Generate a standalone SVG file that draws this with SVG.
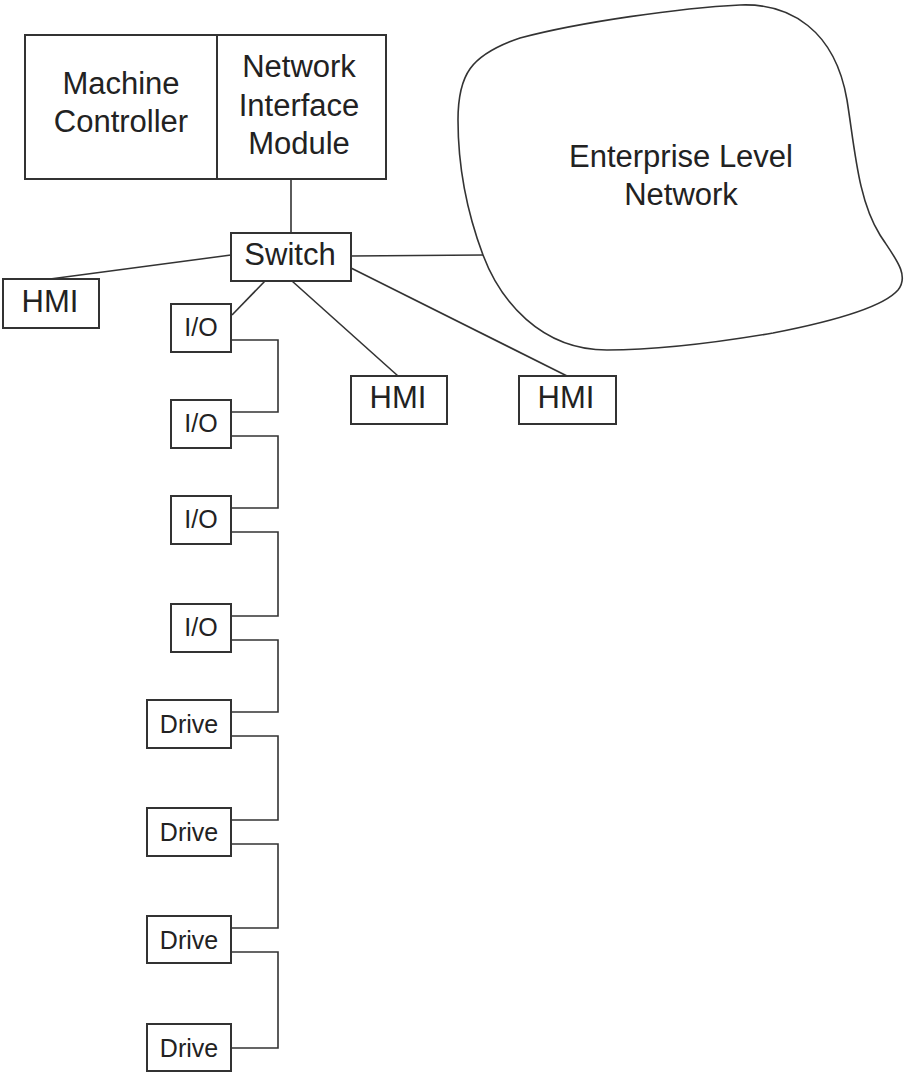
<svg xmlns="http://www.w3.org/2000/svg" width="907" height="1073" viewBox="0 0 907 1073">
<style>
.box{fill:#fff;stroke:#333;stroke-width:2}
.ln{fill:none;stroke:#333;stroke-width:1.6}
.t{font-family:"Liberation Sans",Arial,sans-serif;font-size:31px;fill:#222;text-anchor:middle}
.s{font-family:"Liberation Sans",Arial,sans-serif;font-size:25px;fill:#222;text-anchor:middle}
</style>
<rect width="907" height="1073" fill="#fff"/>
<g id="connectors">
<line class="ln" x1="291" y1="179" x2="291" y2="233"/>
<line class="ln" x1="231" y1="255" x2="50" y2="279"/>
<line class="ln" x1="351" y1="256" x2="483" y2="255"/>
<line class="ln" x1="265" y1="281" x2="232" y2="315"/>
<line class="ln" x1="292" y1="281" x2="398" y2="376"/>
<line class="ln" x1="351" y1="268" x2="567" y2="376"/>
<polyline class="ln" points="231,340 278,340 278,412 231,412"/>
<polyline class="ln" points="231,436 278,436 278,508 231,508"/>
<polyline class="ln" points="231,532 278,532 278,616 231,616"/>
<polyline class="ln" points="231,640 278,640 278,712 231,712"/>
<polyline class="ln" points="231,736 278,736 278,820 231,820"/>
<polyline class="ln" points="231,844 278,844 278,928 231,928"/>
<polyline class="ln" points="231,952 278,952 278,1048 231,1048"/>
</g>
<g id="machine-controller">
<rect class="box" x="25" y="35" width="192" height="144"/>
<text class="t" x="121" y="94">Machine</text>
<text class="t" x="121" y="132">Controller</text>
</g>
<g id="network-interface-module">
<rect class="box" x="217" y="35" width="169" height="144"/>
<text class="t" x="299" y="77">Network</text>
<text class="t" x="299" y="116">Interface</text>
<text class="t" x="299" y="154">Module</text>
</g>
<g id="enterprise-network">
<path class="box" style="stroke-width:1.6" d="M 607,350 C 540,350 500,300 483,255 C 468,215 458,170 458,120 C 458,75 470,55 520,38 C 580,22 680,8 740,5 C 790,3 835,30 847,100 C 855,150 858,200 880,235 C 895,258 910,275 898,290 C 885,305 840,320 773,333 C 720,342 660,350 607,350 Z"/>
<text class="t" x="681" y="167">Enterprise Level</text>
<text class="t" x="681" y="205">Network</text>
</g>
<g id="switch">
<rect class="box" x="231" y="233" width="120" height="48"/>
<text class="t" x="290" y="265">Switch</text>
</g>
<g id="hmi-left">
<rect class="box" x="3" y="279" width="96" height="49"/>
<text class="t" x="50" y="312">HMI</text>
</g>
<g id="hmi-mid">
<rect class="box" x="351" y="376" width="96" height="48"/>
<text class="t" x="398" y="408">HMI</text>
</g>
<g id="hmi-right">
<rect class="box" x="519" y="376" width="97" height="48"/>
<text class="t" x="566" y="408">HMI</text>
</g>
<g id="io1">
<rect class="box" x="171" y="304" width="60" height="48"/>
<text class="s" x="201" y="336">I/O</text>
</g>
<g id="io2">
<rect class="box" x="171" y="400" width="60" height="48"/>
<text class="s" x="201" y="432">I/O</text>
</g>
<g id="io3">
<rect class="box" x="171" y="496" width="60" height="48"/>
<text class="s" x="201" y="528">I/O</text>
</g>
<g id="io4">
<rect class="box" x="171" y="604" width="60" height="48"/>
<text class="s" x="201" y="636">I/O</text>
</g>
<g id="drive1">
<rect class="box" x="147" y="700" width="84" height="48"/>
<text class="s" x="189" y="733">Drive</text>
</g>
<g id="drive2">
<rect class="box" x="147" y="808" width="84" height="48"/>
<text class="s" x="189" y="841">Drive</text>
</g>
<g id="drive3">
<rect class="box" x="147" y="916" width="84" height="47"/>
<text class="s" x="189" y="949">Drive</text>
</g>
<g id="drive4">
<rect class="box" x="147" y="1024" width="84" height="47"/>
<text class="s" x="189" y="1057">Drive</text>
</g>
</svg>
